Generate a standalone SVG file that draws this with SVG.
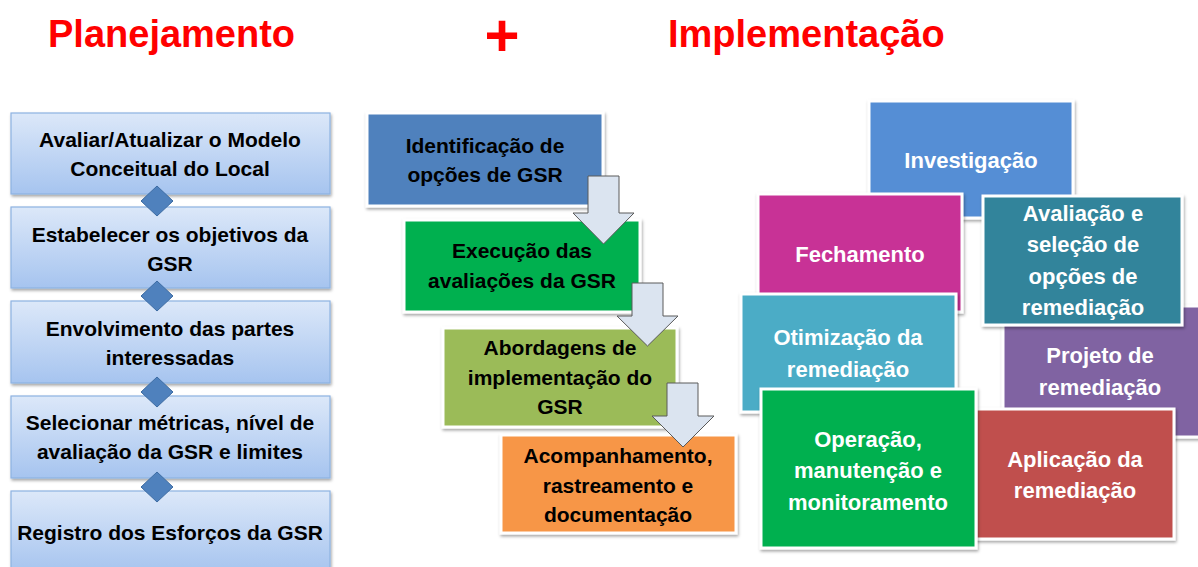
<svg xmlns="http://www.w3.org/2000/svg" width="1198" height="567" viewBox="0 0 1198 567">
<defs>
<linearGradient id="lg" x1="0" y1="0" x2="0" y2="1">
<stop offset="0" stop-color="#dce8f9"/>
<stop offset="1" stop-color="#a6c4ef"/>
</linearGradient>
<filter id="sh" x="-10%" y="-10%" width="125%" height="130%">
<feDropShadow dx="1" dy="2" stdDeviation="1.6" flood-color="#000" flood-opacity="0.35"/>
</filter>
</defs>
<style>
.t{font-family:"Liberation Sans",Arial,sans-serif;font-weight:bold;font-size:21px;text-anchor:middle}
.w{font-size:22px}
.title{font-family:"Liberation Sans",Arial,sans-serif;font-weight:bold;font-size:38px;fill:#ff0000}
.lb{fill:url(#lg);stroke:#8db2e2;stroke-width:1.2;filter:url(#sh)}
.bx{stroke:#ffffff;stroke-width:3;filter:url(#sh)}
.blk{fill:#000}
.wht{fill:#ffffff}
.dia{fill:#4f81bd;stroke:#3d6ca3;stroke-width:1}
.arr{fill:#dbe4f0;stroke:#5a5a5a;stroke-width:1}
</style>
<rect width="1198" height="567" fill="#ffffff"/>
<text class="title" x="48" y="47">Planejamento</text>
<text class="title" x="502" y="56" text-anchor="middle" style="font-size:60px">+</text>
<text class="title" x="668" y="47">Implementação</text>

<g id="p1"><rect class="lb" x="11" y="113" width="319" height="81"/>
<text class="t blk" x="170" y="147">Avaliar/Atualizar o Modelo</text><text class="t blk" x="170" y="176">Conceitual do Local</text></g>
<g id="p2"><rect class="lb" x="11" y="207" width="319" height="81"/>
<text class="t blk" x="170" y="242">Estabelecer os objetivos da</text><text class="t blk" x="170" y="271">GSR</text></g>
<g id="p3"><rect class="lb" x="11" y="301" width="319" height="82"/>
<text class="t blk" x="170" y="336">Envolvimento das partes</text><text class="t blk" x="170" y="365">interessadas</text></g>
<g id="p4"><rect class="lb" x="11" y="396" width="319" height="82"/>
<text class="t blk" x="170" y="430">Selecionar métricas, nível de</text><text class="t blk" x="170" y="459">avaliação da GSR e limites</text></g>
<g id="p5"><rect class="lb" x="11" y="491" width="319" height="82"/>
<text class="t blk" x="170" y="540">Registro dos Esforços da GSR</text></g>

<g id="m1"><rect class="bx" x="367" y="113" width="236" height="93" fill="#4f81bd"/>
<text class="t blk" x="485" y="153">Identificação de</text><text class="t blk" x="485" y="182">opções de GSR</text></g>
<g id="m2"><rect class="bx" x="404" y="220" width="236" height="92" fill="#00b050"/>
<text class="t blk" x="522" y="258">Execução das</text><text class="t blk" x="522" y="288">avaliações da GSR</text></g>
<g id="m3"><rect class="bx" x="443" y="328" width="234" height="99" fill="#9bbb59"/>
<text class="t blk" x="560" y="355">Abordagens de</text><text class="t blk" x="560" y="385">implementação do</text><text class="t blk" x="560" y="414">GSR</text></g>
<g id="m4"><rect class="bx" x="501" y="435" width="235" height="98" fill="#f79646"/>
<text class="t blk" x="618" y="463">Acompanhamento,</text><text class="t blk" x="618" y="493">rastreamento e</text><text class="t blk" x="618" y="522">documentação</text></g>

<g id="r1"><rect class="bx" x="869" y="101" width="204" height="117" fill="#558ed5"/>
<text class="t w wht" x="971" y="168">Investigação</text></g>
<g id="r5"><rect class="bx" x="1003" y="306" width="200" height="131" fill="#8064a2"/>
<text class="t w wht" x="1100" y="363">Projeto de</text><text class="t w wht" x="1100" y="395">remediação</text></g>
<g id="r2"><rect class="bx" x="758" y="194" width="204" height="118" fill="#c83296"/>
<text class="t w wht" x="860" y="262">Fechamento</text></g>
<g id="r3"><rect class="bx" x="983" y="196" width="199" height="129" fill="#31849b"/>
<text class="t w wht" x="1083" y="221">Avaliação e</text><text class="t w wht" x="1083" y="252">seleção de</text><text class="t w wht" x="1083" y="284">opções de</text><text class="t w wht" x="1083" y="315">remediação</text></g>
<g id="r4"><rect class="bx" x="741" y="294" width="215" height="118" fill="#4bacc6"/>
<text class="t w wht" x="848" y="345">Otimização da</text><text class="t w wht" x="848" y="377">remediação</text></g>
<g id="r6"><rect class="bx" x="976" y="409" width="198" height="130" fill="#c0504d"/>
<text class="t w wht" x="1075" y="467">Aplicação da</text><text class="t w wht" x="1075" y="498">remediação</text></g>
<g id="r7"><rect class="bx" x="761" y="389" width="215" height="159" fill="#00b050"/>
<text class="t w wht" x="868" y="447">Operação,</text><text class="t w wht" x="868" y="478">manutenção e</text><text class="t w wht" x="868" y="510">monitoramento</text></g>

<g id="connectors">
<polygon class="dia" points="157,186 173,201 157,216 141,201"/>
<polygon class="dia" points="157,281 173,296 157,311 141,296"/>
<polygon class="dia" points="157,377 173,392 157,407 141,392"/>
<polygon class="dia" points="157,472 173,487 157,502 141,487"/>
<polygon class="arr" points="588,176 619,176 619,213 634,213 603.5,244 573,213 588,213"/>
<polygon class="arr" points="632,283 663,283 663,316 678,316 647.5,346 617,316 632,316"/>
<polygon class="arr" points="667,383 698,383 698,416 714,416 683,447 652,416 667,416"/>
</g>
</svg>
